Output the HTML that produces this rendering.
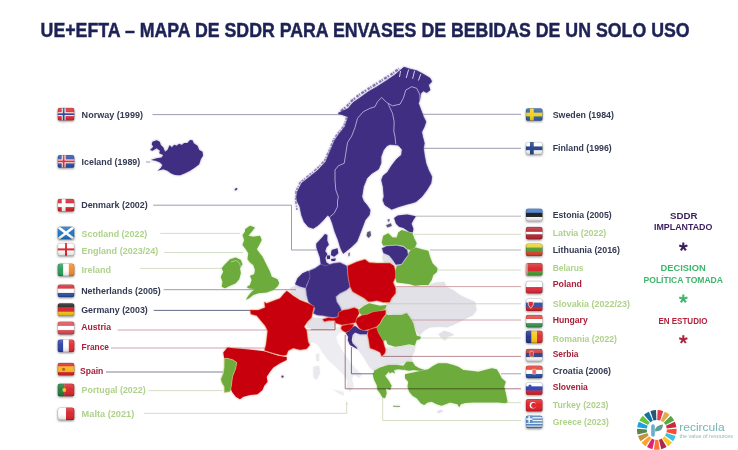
<!DOCTYPE html>
<html lang="es"><head><meta charset="utf-8"><title>UE+EFTA – Mapa de SDDR</title>
<style>html,body{margin:0;padding:0;background:#fff}body{width:738px;height:450px;overflow:hidden}svg{display:block}</style></head>
<body>
<svg width="738" height="450" viewBox="0 0 738 450" font-family="'Liberation Sans', sans-serif">
<defs>
<filter id="sh" x="-30%" y="-30%" width="160%" height="180%"><feDropShadow dx="0" dy="1" stdDeviation="1" flood-color="#444" flood-opacity="0.6"/></filter>
<filter id="soft" x="-5%" y="-5%" width="110%" height="110%"><feGaussianBlur stdDeviation="0.35"/></filter>
<filter id="map" x="-5%" y="-5%" width="110%" height="110%"><feGaussianBlur in="SourceGraphic" stdDeviation="1.3" result="b"/><feComponentTransfer in="b" result="g"><feFuncA type="linear" slope="0.45"/></feComponentTransfer><feGaussianBlur in="SourceGraphic" stdDeviation="0.35" result="s"/><feMerge><feMergeNode in="g"/><feMergeNode in="s"/></feMerge></filter>
<filter id="glow" x="-5%" y="-5%" width="110%" height="110%"><feGaussianBlur stdDeviation="1.2"/></filter>
<linearGradient id="gl" x1="0" y1="0" x2="0" y2="1"><stop offset="0" stop-color="#fff" stop-opacity="0.22"/><stop offset="0.45" stop-color="#fff" stop-opacity="0.04"/><stop offset="1" stop-color="#000" stop-opacity="0.16"/></linearGradient>
</defs>
<rect width="738" height="450" fill="#fff"/>
<g filter="url(#map)"><polygon points="396.7,286.7 415.0,286.7 428.3,285.8 435.0,282.5 444.2,281.7 446.7,286.7 453.3,290.0 460.0,295.0 466.7,298.3 475.0,301.7 476.7,310.0 473.3,315.0 466.7,318.3 460.0,321.7 453.3,325.0 446.7,327.5 438.3,326.7 430.0,327.5 425.0,330.0 421.7,333.3 419.2,335.8 415.8,330.0 413.3,323.3 410.8,318.3 406.7,313.3 401.7,315.0 393.3,315.0 385.0,313.3 385.0,305.8 389.2,303.3 391.7,299.2 395.8,293.3" fill="#e2e1e7" />
<polygon points="438.3,334.2 444.2,330.8 450.0,332.5 454.2,335.0 448.3,336.7 445.0,340.8 441.7,338.3" fill="#e2e1e7" />
<polygon points="335.8,296.7 340.0,293.3 346.7,290.0 350.0,286.7 352.5,291.7 358.3,295.0 364.2,298.3 368.3,302.5 363.3,305.8 358.3,308.3 353.3,307.5 346.7,309.2 341.7,310.0 340.0,306.0 336.7,301.7" fill="#e2e1e7" />
<polygon points="290.0,288.0 296.0,285.5 305.0,287.0 307.0,295.0 309.0,300.0 304.0,300.5 297.0,297.0 291.0,293.0" fill="#e2e1e7" />
<polygon points="307.5,321.7 311.7,317.5 321.7,318.3 328.3,320.0 335.0,323.3 334.2,328.3 323.3,329.2 313.3,329.2 306.7,327.5" fill="#e2e1e7" />
<polygon points="307.0,330.0 313.0,329.0 323.0,329.5 334.0,328.5 341.0,326.0 343.0,331.0 339.0,333.0 336.0,337.0 338.0,343.0 343.0,352.0 350.0,362.0 357.0,370.0 362.0,375.0 359.0,378.0 354.0,374.5 352.0,379.0 354.0,386.0 350.0,392.0 346.5,388.0 347.5,381.0 343.0,374.0 336.0,367.0 328.0,360.0 322.0,352.0 318.0,345.0 312.0,342.0 308.5,345.0 307.5,337.0" fill="#ededf1" />
<polygon points="332.5,389.2 343.3,391.7 344.2,395.8 338.3,393.3" fill="#ededf1" />
<polygon points="313.3,366.7 319.2,365.8 320.0,373.3 316.7,380.0 313.3,377.5" fill="#e9e9ed" />
<polygon points="315.8,354.2 319.2,353.3 319.2,360.8 316.7,361.7" fill="#e9e9ed" />
<polygon points="385.0,347.5 395.0,347.5 409.2,345.0 415.8,346.7 414.2,352.5 411.7,356.7 412.5,360.8 405.0,363.3 396.7,365.0 388.3,365.0 383.3,365.8 380.0,363.3 385.0,353.3 385.8,350.0" fill="#e5e4ea" />
<polygon points="352.5,335.0 360.0,334.2 366.7,334.2 369.2,344.0 375.0,350.0 381.7,356.7 383.3,365.0 378.0,367.5 374.0,371.0 370.0,368.0 364.0,358.0 357.5,349.2 353.3,343.0" fill="#e7e6ec" />
<polygon points="383.3,254.0 389.0,256.5 392.5,261.0 394.0,264.0 390.0,263.2 384.0,262.8 382.0,258.0" fill="#e2e1e7" />
<ellipse cx="440" cy="411.5" rx="3" ry="1.3" fill="#e2e2e6" transform="rotate(-20 440 411.5)"/></g>
<g><line x1="152.5" y1="114.6" x2="341.0" y2="114.6" stroke="#9092a6" stroke-width="0.9"/>
<line x1="146.0" y1="162.0" x2="150.5" y2="162.0" stroke="#9092a6" stroke-width="0.9"/>
<polyline points="153.2,205.2 291.5,205.2 291.5,250.0 317.0,250.0" fill="none" stroke="#9092a6" stroke-width="0.9" />
<line x1="160.3" y1="233.4" x2="240.0" y2="233.4" stroke="#d0dac0" stroke-width="0.9"/>
<line x1="164.0" y1="252.5" x2="243.0" y2="252.5" stroke="#d0dac0" stroke-width="0.9"/>
<line x1="140.0" y1="268.4" x2="222.0" y2="268.4" stroke="#d0dac0" stroke-width="0.9"/>
<line x1="163.6" y1="289.7" x2="296.0" y2="289.7" stroke="#9092a6" stroke-width="0.9"/>
<line x1="153.8" y1="310.4" x2="252.0" y2="310.4" stroke="#555a78" stroke-width="0.9"/>
<polyline points="117.6,330.0 335.0,330.0 335.0,321.0" fill="none" stroke="#cc9aa0" stroke-width="0.9" />
<line x1="111.0" y1="348.0" x2="266.0" y2="348.0" stroke="#cc9aa0" stroke-width="0.9"/>
<line x1="106.0" y1="372.0" x2="223.0" y2="372.0" stroke="#77738a" stroke-width="0.9"/>
<line x1="148.4" y1="390.6" x2="222.5" y2="390.6" stroke="#d0dac0" stroke-width="0.9"/>
<polyline points="144.0,413.4 346.7,413.4 346.7,402.5" fill="none" stroke="#d0dac0" stroke-width="0.9" />
<polygon points="345.6,404.5 346.7,401.5 347.8,404.5" fill="#d0dac0"/>
<line x1="421.0" y1="114.3" x2="521.0" y2="114.3" stroke="#9092a6" stroke-width="0.9"/>
<line x1="424.0" y1="148.3" x2="521.0" y2="148.3" stroke="#9092a6" stroke-width="0.9"/>
<line x1="415.8" y1="216.2" x2="521.0" y2="216.2" stroke="#adadb6" stroke-width="0.9"/>
<line x1="414.0" y1="234.3" x2="521.0" y2="234.3" stroke="#d0dac0" stroke-width="0.9"/>
<line x1="430.0" y1="250.0" x2="521.0" y2="250.0" stroke="#adadb6" stroke-width="0.9"/>
<line x1="438.0" y1="270.0" x2="521.0" y2="270.0" stroke="#d0dac0" stroke-width="0.9"/>
<line x1="395.8" y1="286.6" x2="521.0" y2="286.6" stroke="#cc9aa0" stroke-width="0.9"/>
<line x1="386.0" y1="303.8" x2="521.0" y2="303.8" stroke="#c9cfc0" stroke-width="0.9"/>
<line x1="382.0" y1="320.0" x2="521.0" y2="320.0" stroke="#cc9aa0" stroke-width="0.9"/>
<line x1="420.0" y1="338.0" x2="521.0" y2="338.0" stroke="#d0dac0" stroke-width="0.9"/>
<line x1="507.0" y1="402.7" x2="521.0" y2="402.7" stroke="#d0dac0" stroke-width="0.9"/>
<polyline points="382.7,398.0 382.7,420.5 521.0,420.5" fill="none" stroke="#d0dac0" stroke-width="0.9" /></g>
<g filter="url(#map)"><polygon points="313.3,228.3 308.3,226.7 304.2,221.7 301.7,215.0 300.0,206.7 297.2,201.0 296.7,197.0 297.5,191.7 301.7,183.3 310.0,176.7 318.3,170.0 325.8,161.7 330.0,151.7 335.0,140.0 339.2,134.0 345.0,126.7 348.3,116.7 338.3,113.3 348.3,108.5 353.0,102.8 361.0,97.2 368.5,91.8 376.5,87.2 386.5,80.8 395.0,75.0 401.0,69.8 404.0,67.3 410.0,69.2 416.7,70.8 423.3,74.2 430.0,78.3 431.7,81.7 428.3,85.0 430.0,90.0 426.7,92.5 423.3,90.8 420.8,93.3 420.0,98.3 418.3,103.3 420.8,110.0 423.3,116.7 425.8,121.7 424.2,126.7 421.5,132.0 422.5,136.7 424.2,143.3 423.3,148.3 424.2,155.0 425.8,163.3 428.3,170.0 431.7,176.7 430.8,183.3 426.7,190.0 421.7,196.7 416.0,201.5 413.3,202.5 406.7,204.2 398.3,206.7 391.7,209.2 385.0,205.0 383.0,200.0 384.2,196.7 383.3,186.7 381.7,180.0 383.3,175.8 387.5,172.5 391.7,165.8 396.7,159.2 401.7,155.0 402.3,149.5 398.3,145.0 390.0,144.2 386.7,145.8 383.3,150.0 380.8,156.7 380.8,163.3 378.3,169.2 371.7,173.3 366.7,178.3 363.3,186.7 361.7,196.7 363.3,201.0 366.7,205.0 370.0,210.0 369.2,215.0 365.0,220.0 362.5,226.7 360.0,233.3 356.7,241.7 352.5,245.8 347.5,250.0 343.3,253.3 340.8,248.3 338.3,240.0 335.0,231.7 332.5,223.3 330.0,216.7 327.5,215.0 323.3,220.0 318.3,225.0" fill="#3f2d82" stroke="#3f2d82" stroke-width="0.8" stroke-linejoin="round"/>
<polyline points="330.0,216.7 334.2,213.3 337.5,206.7 337.5,201.0 338.3,196.7 335.8,190.0 335.0,180.0 335.0,170.0 338.3,165.8 344.2,163.3 345.8,153.3 347.5,142.5 351.7,136.0 355.0,127.5 357.5,118.3 363.3,111.7 370.0,108.3 375.0,106.7 377.5,101.7 381.7,97.5 386.7,102.5 392.5,105.8 400.0,104.2 403.3,98.3 405.8,90.0 411.7,86.7 416.7,88.3 420.0,95.0 420.0,100.0" fill="none" stroke="#c9bfe6" stroke-width="0.8" />
<polyline points="388.3,104.2 392.5,113.3 394.2,121.7 393.8,131.0 395.0,136.7 395.8,144.2" fill="none" stroke="#c9bfe6" stroke-width="0.8" />
<line x1="408.6" y1="69.5" x2="406.2" y2="78.0" stroke="#e9e4f6" stroke-width="0.9"/>
<line x1="414.6" y1="70.8" x2="412.6" y2="78.8" stroke="#e9e4f6" stroke-width="0.9"/>
<line x1="420.8" y1="74.0" x2="418.4" y2="80.5" stroke="#e9e4f6" stroke-width="0.9"/>
<line x1="400.5" y1="71.0" x2="399.5" y2="77.0" stroke="#e9e4f6" stroke-width="0.9"/>
<polyline points="341.0,111.0 347.0,106.0 352.0,100.5 359.0,95.0 366.5,90.0 374.5,85.0 384.0,79.0 392.5,73.5 399.0,68.5" fill="none" stroke="#3f2d82" stroke-width="2.2" stroke-dasharray="3 1.1 1.6 1.8 2.4 0.9 1.2 1.5" opacity="0.6"/>
<polyline points="297.0,210.0 295.5,200.0 296.0,191.0 300.0,182.5 308.5,175.5 317.0,168.5 324.5,160.5 328.8,151.0 333.8,139.0 338.0,133.0 343.8,126.0 346.5,117.5" fill="none" stroke="#3f2d82" stroke-width="1.6" stroke-dasharray="2.2 1 1.2 1.6 3 1.2" opacity="0.5"/>
<polygon points="367.3,232.2 370.3,231.0 371.0,235.5 368.6,238.0 366.6,235.8" fill="#5a5478" />
<polygon points="348.5,253.0 350.0,252.5 349.5,256.0 348.3,256.5" fill="#6a648a" />
<polygon points="152.5,141.7 156.7,140.3 159.7,141.7 160.8,145.0 163.3,147.5 165.0,151.7 167.5,150.0 169.7,145.0 171.7,147.5 174.2,144.7 176.7,145.8 179.2,143.7 181.7,145.0 184.2,143.0 187.5,143.0 190.0,140.0 192.5,140.3 193.7,143.3 197.5,145.8 199.2,150.0 202.5,151.7 203.0,155.8 200.8,159.2 199.2,164.2 195.0,167.5 190.0,170.8 185.0,173.3 180.0,175.3 175.0,175.0 170.8,173.3 167.5,170.8 163.3,169.2 157.5,170.8 160.8,168.0 162.5,165.0 160.0,162.5 155.8,160.8 150.8,160.0 156.7,158.3 161.7,157.5 163.3,155.0 159.2,153.3 160.0,150.8 156.7,148.3 152.5,150.8 150.0,150.0 153.3,146.7 151.7,144.2" fill="#3f2d82" />
<ellipse cx="236" cy="189.2" rx="1.6" ry="1" fill="#4a3d80" transform="rotate(-35 236 189.2)"/>
<polygon points="324.9,234.0 327.4,235.0 327.2,240.6 328.9,244.7 326.4,247.4 325.2,251.2 327.4,253.9 325.3,257.7 326.4,262.4 330.5,264.7 327.4,266.8 321.2,266.1 320.5,262.4 319.9,257.4 318.1,252.4 316.4,247.4 316.2,243.7 319.3,240.6 322.7,236.8" fill="#3f2d82" />
<polygon points="331.7,250.0 337.5,248.3 338.3,253.3 334.2,256.7 330.8,255.0" fill="#3f2d82" />
<polygon points="327.0,255.5 330.0,255.5 330.0,259.0 327.0,259.0" fill="#3f2d82" />
<polygon points="331.0,259.0 336.0,258.5 335.0,261.0 331.5,261.0" fill="#3f2d82" />
<polygon points="295.0,284.2 297.5,278.3 302.5,273.3 308.3,270.8 310.8,274.2 309.2,279.2 306.7,284.2 305.5,288.0 300.0,286.5" fill="#3f2d82" />
<polygon points="309.2,270.8 315.0,268.3 320.8,264.2 325.8,265.8 333.3,263.3 340.0,262.5 346.7,265.8 347.5,271.0 348.3,278.3 350.0,286.7 346.7,290.0 340.0,293.3 335.8,296.7 336.7,301.7 340.0,306.7 341.7,310.8 338.3,313.3 338.3,316.7 333.3,317.5 328.3,316.7 323.3,315.8 316.7,315.0 313.3,313.3 315.0,308.3 311.7,305.0 308.3,301.7 306.7,295.0 305.8,288.3 308.3,281.7 310.0,276.7" fill="#3f2d82" stroke="#8f84c0" stroke-width="0.5"/>
<polygon points="347.5,265.8 356.7,261.7 365.0,259.2 369.2,262.5 376.7,263.0 390.0,263.0 394.2,265.8 395.5,271.0 395.8,276.7 393.3,282.5 395.8,288.3 395.8,293.3 391.7,298.3 389.6,302.5 383.3,302.5 376.7,300.8 371.7,301.7 368.3,301.7 364.2,298.3 358.3,295.0 352.5,291.7 350.0,286.7 348.3,278.3 347.5,270.0" fill="#c8000c" stroke="#e9a06a" stroke-width="0.5"/>
<polygon points="410.8,250.0 415.8,247.5 421.7,249.2 428.3,250.8 430.0,256.7 432.5,263.3 437.5,268.3 437.0,272.0 433.3,275.0 431.7,280.0 428.3,285.0 421.7,285.0 415.0,285.8 410.0,284.2 403.3,283.3 396.7,282.5 395.0,276.7 395.8,270.0 396.7,265.8 401.7,265.0 405.0,260.0 407.5,256.7 408.3,253.3" fill="#6dab3c" />
<polygon points="381.7,242.5 383.3,235.8 388.3,233.3 392.5,237.5 396.7,237.5 398.3,232.5 401.7,230.0 407.5,231.7 412.5,233.3 414.2,238.3 416.7,243.3 415.0,247.5 410.8,250.0 407.5,249.2 403.3,245.8 396.7,244.7 388.3,245.0 383.3,245.8" fill="#6dab3c" />
<polygon points="381.7,248.3 386.7,245.8 396.7,245.3 403.3,246.7 407.5,250.0 408.3,255.0 405.0,259.2 401.7,264.2 395.8,265.0 392.5,260.0 389.2,255.8 383.3,253.3" fill="#3f2d82" stroke="#d8d4ec" stroke-width="0.5"/>
<polygon points="394.1,218.1 397.8,215.6 407.2,214.4 415.9,216.2 413.4,220.0 411.5,223.7 413.4,228.7 412.8,232.4 409.0,231.8 403.4,228.1 399.1,226.8 396.0,223.7" fill="#3f2d82" />
<polygon points="386.0,225.2 391.0,223.3 391.8,226.0 387.5,227.5" fill="#5a5478" />
<polygon points="387.5,219.5 389.5,219.0 389.5,221.5 387.8,221.5" fill="#6a648a" />
<polygon points="245.0,229.2 250.0,225.8 255.0,227.5 251.7,231.7 248.3,235.8 253.3,236.7 260.0,235.8 261.7,240.0 259.2,245.0 256.7,249.2 259.2,252.5 262.5,256.7 265.0,261.7 267.5,266.7 270.0,271.7 271.7,276.7 277.5,279.2 279.2,283.3 277.5,286.5 273.3,290.0 266.7,292.5 258.3,293.3 253.3,295.0 249.2,298.3 245.8,300.0 248.3,295.8 251.7,291.7 255.0,289.2 248.3,288.3 246.7,287.0 250.0,285.0 251.7,280.0 250.0,275.8 254.2,274.2 255.0,270.0 253.3,265.0 250.0,262.5 247.5,259.2 248.3,253.3 245.8,249.2 242.5,245.0 244.2,240.0 242.5,235.0 245.0,231.7" fill="#6dab3c" />
<polygon points="230.0,259.2 235.8,257.5 240.8,260.0 242.5,264.2 240.0,268.3 240.8,273.3 239.2,279.2 235.8,283.3 230.0,285.8 225.0,288.3 221.7,286.7 222.5,281.7 220.8,276.7 223.3,271.7 221.7,268.3 225.0,264.2 227.5,261.7" fill="#6dab3c" />
<polyline points="231.0,262.0 236.0,260.5 239.5,263.0 240.5,266.5" fill="none" stroke="#cfe6b8" stroke-width="0.6" />
<polygon points="286.7,290.8 289.2,292.5 293.3,295.8 300.0,300.0 308.3,303.3 314.2,306.2 312.5,313.3 311.7,317.5 307.5,321.7 304.2,326.7 306.7,330.0 307.5,336.7 308.3,342.0 310.0,345.0 306.7,349.0 300.0,350.0 293.3,348.3 288.3,350.8 286.7,355.0 283.3,355.8 276.7,354.2 270.0,352.5 264.2,350.8 265.8,345.0 266.7,338.3 267.5,330.8 265.0,325.8 260.8,320.8 256.7,315.8 250.8,314.2 250.0,310.0 258.3,310.0 265.0,307.5 264.2,301.7 266.7,303.3 273.3,300.8 280.0,298.3 283.3,294.2" fill="#c8000c" stroke="#e9a06a" stroke-width="0.4"/>
<polygon points="223.3,352.5 227.5,347.5 233.0,348.3 243.0,349.0 253.0,350.0 264.0,351.2 270.0,353.0 278.0,355.5 286.7,357.0 286.7,360.0 280.0,363.3 273.3,367.5 270.0,371.7 266.7,376.7 267.5,381.7 264.2,385.8 262.5,390.0 257.5,394.2 250.0,395.0 243.3,396.7 240.0,399.2 235.8,396.7 232.5,392.5 230.8,389.2 231.7,383.3 232.5,376.7 235.8,368.3 236.7,362.5 233.3,360.0 227.5,358.3 224.2,358.3" fill="#c8000c" />
<polyline points="264.0,350.6 270.0,352.6 278.0,355.2 286.7,356.7" fill="none" stroke="#f2c9a0" stroke-width="0.7" />
<polygon points="224.2,358.3 227.5,358.3 233.3,360.0 236.7,362.5 235.8,368.3 232.5,376.7 231.7,383.3 230.8,389.2 230.0,391.7 224.2,392.5 224.2,386.7 221.7,382.5 220.8,379.2 223.3,373.3 224.2,366.7" fill="#6dab3c" stroke="#e8d49a" stroke-width="0.5"/>
<circle cx="282.5" cy="376.7" r="1.1" fill="#4a3d80"/>
<polygon points="359.2,309.2 364.2,305.8 369.2,303.3 373.3,304.2 380.0,305.8 386.7,305.0 385.0,309.2 380.0,310.8 373.3,311.7 366.7,314.2 361.7,315.0 359.2,312.5" fill="#6dab3c" />
<polygon points="322.5,319.2 328.3,317.5 333.3,318.3 338.3,316.7 338.3,312.5 343.3,310.0 348.3,309.2 354.2,307.5 358.3,309.2 359.2,313.3 356.7,318.3 355.8,322.5 348.3,324.2 341.7,325.0 335.8,323.3 335.0,320.8 328.3,320.8 324.2,321.7" fill="#c8000c" stroke="#e9a06a" stroke-width="0.4"/>
<polygon points="356.7,318.3 361.7,315.3 367.5,314.2 373.3,311.7 380.8,310.8 385.8,310.0 385.8,314.2 382.5,318.3 380.0,323.3 376.7,326.7 370.0,329.2 363.3,330.8 359.2,328.3 356.7,324.2 355.8,321.7" fill="#c8000c" stroke="#e9a06a" stroke-width="0.4"/>
<polygon points="341.7,325.8 348.3,324.2 354.2,324.2 352.5,327.5 349.2,330.8 345.8,332.5 342.5,330.8 340.8,328.3" fill="#c8000c" stroke="#e9a06a" stroke-width="0.4"/>
<polygon points="352.5,327.5 355.0,325.8 359.2,329.2 363.3,330.8 368.3,330.8 366.7,334.2 360.0,334.2 355.0,332.5 352.5,335.0 351.7,340.0 352.5,343.3 356.7,347.5 357.5,349.2 353.3,346.7 350.0,345.0 347.8,340.0 348.3,336.7 345.8,333.0 349.2,330.8" fill="#3f2d82" />
<polygon points="368.3,330.0 373.3,328.3 376.7,327.5 378.3,332.5 380.8,336.7 383.3,341.0 384.2,345.0 385.8,350.0 385.0,353.3 381.7,356.7 380.0,352.5 375.0,350.0 370.0,348.3 369.2,344.2 368.6,340.0 367.5,335.0" fill="#c8000c" stroke="#e9a06a" stroke-width="0.4"/>
<polygon points="376.7,327.5 380.8,323.3 383.3,318.3 386.7,314.2 388.3,315.0 401.7,315.0 406.7,313.0 410.0,317.5 413.3,323.3 415.0,330.0 416.7,335.8 420.8,336.7 420.0,339.2 416.7,340.0 415.0,345.0 415.8,345.8 409.2,344.2 401.7,345.8 395.0,346.7 387.5,344.2 386.0,340.0 383.3,341.0 380.8,336.7 378.3,332.5" fill="#6dab3c" />
<polygon points="374.2,370.8 380.0,367.5 388.3,365.0 396.7,365.0 403.3,365.8 405.0,370.0 398.3,369.2 394.0,370.0 395.0,373.5 392.0,372.0 390.0,373.5 388.5,371.5 387.5,373.3 385.0,375.8 388.3,380.0 391.7,385.8 390.0,390.0 385.8,388.3 386.7,393.3 385.0,398.3 382.5,397.5 380.0,393.3 377.5,390.0 376.7,385.0 374.2,380.0 373.0,375.8" fill="#6dab3c" />
<polyline points="393.0,406.2 400.0,406.5" fill="none" stroke="#7a9a5a" stroke-width="0.9" />
<polygon points="403.3,365.8 406.7,361.7 412.5,361.7 415.0,365.8 419.2,368.3 425.0,370.0 420.0,370.8 413.3,370.0 409.2,370.8 405.0,370.0" fill="#6dab3c" />
<polygon points="405.0,374.2 413.3,372.5 421.7,370.8 428.3,369.2 433.3,365.8 438.3,363.3 446.7,363.3 453.3,365.0 458.3,366.7 463.3,370.0 470.0,370.8 478.3,371.7 485.0,370.0 491.7,368.3 496.7,369.2 499.2,373.3 501.7,378.3 505.8,381.7 504.2,386.7 505.8,393.3 507.5,401.7 505.8,403.3 498.3,402.5 490.0,402.5 481.7,402.5 473.3,402.5 465.0,403.0 460.8,404.2 459.2,407.5 457.5,404.2 450.0,402.5 441.7,405.8 436.7,404.2 431.7,401.7 427.5,402.5 424.2,405.0 420.8,403.3 416.7,398.3 412.5,395.8 409.2,391.7 407.5,386.7 408.3,381.7 405.0,378.3" fill="#6dab3c" /></g>
<g style="mix-blend-mode:multiply"><polyline points="382.5,356.4 521.0,356.4" fill="none" stroke="#b08088" stroke-width="0.9" />
<polyline points="351.4,347.2 351.4,373.8 374.0,373.8" fill="none" stroke="#62648a" stroke-width="0.9" />
<polyline points="501.0,373.8 521.0,373.8" fill="none" stroke="#9a9cb0" stroke-width="0.9" />
<polyline points="345.2,335.0 345.2,388.8 521.0,388.8" fill="none" stroke="#a0707a" stroke-width="0.9" />
<polyline points="311.0,329.6 335.0,329.6 335.0,321.0" fill="none" stroke="#cc9aa0" stroke-width="0.9" /></g>
<g><g filter="url(#sh)"><clipPath id="c1"><rect x="57.6" y="107.8" width="16.8" height="12.8" rx="2.6"/></clipPath><g clip-path="url(#c1)"><rect x="57.60" y="107.80" width="16.80" height="12.80" fill="#e0282e"/><rect x="61.73" y="107.80" width="3.84" height="12.80" fill="#fff"/><rect x="57.60" y="112.28" width="16.80" height="3.84" fill="#fff"/><rect x="62.75" y="107.80" width="1.79" height="12.80" fill="#2a3f9a"/><rect x="57.60" y="113.30" width="16.80" height="1.79" fill="#2a3f9a"/><rect x="57.6" y="107.8" width="16.8" height="12.8" fill="url(#gl)"/><rect x="57.6" y="107.8" width="16.8" height="12.8" rx="2.6" fill="none" stroke="#000" stroke-opacity="0.22" stroke-width="1.2"/></g></g>
<g filter="url(#sh)"><clipPath id="c2"><rect x="57.6" y="155.0" width="16.8" height="12.8" rx="2.6"/></clipPath><g clip-path="url(#c2)"><rect x="57.60" y="155.00" width="16.80" height="12.80" fill="#2a50a8"/><rect x="61.73" y="155.00" width="3.84" height="12.80" fill="#fff"/><rect x="57.60" y="159.48" width="16.80" height="3.84" fill="#fff"/><rect x="62.75" y="155.00" width="1.79" height="12.80" fill="#e0282e"/><rect x="57.60" y="160.50" width="16.80" height="1.79" fill="#e0282e"/><rect x="57.6" y="155.0" width="16.8" height="12.8" fill="url(#gl)"/><rect x="57.6" y="155.0" width="16.8" height="12.8" rx="2.6" fill="none" stroke="#000" stroke-opacity="0.22" stroke-width="1.2"/></g></g>
<g filter="url(#sh)"><clipPath id="c3"><rect x="57.6" y="198.8" width="16.8" height="12.8" rx="2.6"/></clipPath><g clip-path="url(#c3)"><rect x="57.60" y="198.80" width="16.80" height="12.80" fill="#d8222a"/><rect x="61.73" y="198.80" width="3.84" height="12.80" fill="#fff"/><rect x="57.60" y="203.28" width="16.80" height="3.84" fill="#fff"/><rect x="57.6" y="198.8" width="16.8" height="12.8" fill="url(#gl)"/><rect x="57.6" y="198.8" width="16.8" height="12.8" rx="2.6" fill="none" stroke="#000" stroke-opacity="0.22" stroke-width="1.2"/></g></g>
<g filter="url(#sh)"><clipPath id="c4"><rect x="57.6" y="226.6" width="16.8" height="12.8" rx="2.6"/></clipPath><g clip-path="url(#c4)"><rect x="57.60" y="226.60" width="16.80" height="12.80" fill="#1b74c4"/><path d="M57.6 226.6 L74.4 239.4 M74.4 226.6 L57.6 239.4" stroke="#fff" stroke-width="2.6"/><rect x="57.6" y="226.6" width="16.8" height="12.8" fill="url(#gl)"/><rect x="57.6" y="226.6" width="16.8" height="12.8" rx="2.6" fill="none" stroke="#000" stroke-opacity="0.22" stroke-width="1.2"/></g></g>
<g filter="url(#sh)"><clipPath id="c5"><rect x="57.6" y="243.0" width="16.8" height="12.8" rx="2.6"/></clipPath><g clip-path="url(#c5)"><rect x="57.60" y="243.00" width="16.80" height="12.80" fill="#fff"/><rect x="65.00" y="243.00" width="2.00" height="12.80" fill="#d8222a"/><rect x="57.60" y="248.40" width="16.80" height="2.00" fill="#d8222a"/><rect x="57.6" y="243.0" width="16.8" height="12.8" fill="url(#gl)"/><rect x="57.6" y="243.0" width="16.8" height="12.8" rx="2.6" fill="none" stroke="#000" stroke-opacity="0.22" stroke-width="1.2"/></g></g>
<g filter="url(#sh)"><clipPath id="c6"><rect x="57.6" y="263.4" width="16.8" height="12.8" rx="2.6"/></clipPath><g clip-path="url(#c6)"><rect x="57.60" y="263.40" width="5.80" height="12.80" fill="#2a9a5a"/><rect x="63.20" y="263.40" width="5.80" height="12.80" fill="#fff"/><rect x="68.80" y="263.40" width="5.80" height="12.80" fill="#f28a2a"/><rect x="57.6" y="263.4" width="16.8" height="12.8" fill="url(#gl)"/><rect x="57.6" y="263.4" width="16.8" height="12.8" rx="2.6" fill="none" stroke="#000" stroke-opacity="0.22" stroke-width="1.2"/></g></g>
<g filter="url(#sh)"><clipPath id="c7"><rect x="57.6" y="284.4" width="16.8" height="12.8" rx="2.6"/></clipPath><g clip-path="url(#c7)"><rect x="57.60" y="284.40" width="16.80" height="4.47" fill="#d8222a"/><rect x="57.60" y="288.67" width="16.80" height="4.47" fill="#fff"/><rect x="57.60" y="292.93" width="16.80" height="4.47" fill="#2a50a8"/><rect x="57.6" y="284.4" width="16.8" height="12.8" fill="url(#gl)"/><rect x="57.6" y="284.4" width="16.8" height="12.8" rx="2.6" fill="none" stroke="#000" stroke-opacity="0.22" stroke-width="1.2"/></g></g>
<g filter="url(#sh)"><clipPath id="c8"><rect x="57.6" y="303.2" width="16.8" height="12.8" rx="2.6"/></clipPath><g clip-path="url(#c8)"><rect x="57.60" y="303.20" width="16.80" height="4.47" fill="#1a1a1a"/><rect x="57.60" y="307.47" width="16.80" height="4.47" fill="#d8222a"/><rect x="57.60" y="311.73" width="16.80" height="4.47" fill="#f7c81a"/><rect x="57.6" y="303.2" width="16.8" height="12.8" fill="url(#gl)"/><rect x="57.6" y="303.2" width="16.8" height="12.8" rx="2.6" fill="none" stroke="#000" stroke-opacity="0.22" stroke-width="1.2"/></g></g>
<g filter="url(#sh)"><clipPath id="c9"><rect x="57.6" y="321.6" width="16.8" height="12.8" rx="2.6"/></clipPath><g clip-path="url(#c9)"><rect x="57.60" y="321.60" width="16.80" height="4.47" fill="#e04a52"/><rect x="57.60" y="325.87" width="16.80" height="4.47" fill="#fff"/><rect x="57.60" y="330.13" width="16.80" height="4.47" fill="#e04a52"/><rect x="57.6" y="321.6" width="16.8" height="12.8" fill="url(#gl)"/><rect x="57.6" y="321.6" width="16.8" height="12.8" rx="2.6" fill="none" stroke="#000" stroke-opacity="0.22" stroke-width="1.2"/></g></g>
<g filter="url(#sh)"><clipPath id="c10"><rect x="57.6" y="339.4" width="16.8" height="12.8" rx="2.6"/></clipPath><g clip-path="url(#c10)"><rect x="57.60" y="339.40" width="5.80" height="12.80" fill="#2a40a8"/><rect x="63.20" y="339.40" width="5.80" height="12.80" fill="#fff"/><rect x="68.80" y="339.40" width="5.80" height="12.80" fill="#e0282e"/><rect x="57.6" y="339.4" width="16.8" height="12.8" fill="url(#gl)"/><rect x="57.6" y="339.4" width="16.8" height="12.8" rx="2.6" fill="none" stroke="#000" stroke-opacity="0.22" stroke-width="1.2"/></g></g>
<g filter="url(#sh)"><clipPath id="c11"><rect x="57.6" y="362.8" width="16.8" height="12.8" rx="2.6"/></clipPath><g clip-path="url(#c11)"><rect x="57.60" y="362.80" width="16.80" height="12.80" fill="#d8222a"/><rect x="57.60" y="366.26" width="16.80" height="5.89" fill="#f5b818"/><circle cx="63.6" cy="369.2" r="1.5" fill="#b5552a"/><rect x="57.6" y="362.8" width="16.8" height="12.8" fill="url(#gl)"/><rect x="57.6" y="362.8" width="16.8" height="12.8" rx="2.6" fill="none" stroke="#000" stroke-opacity="0.22" stroke-width="1.2"/></g></g>
<g filter="url(#sh)"><clipPath id="c12"><rect x="57.6" y="383.6" width="16.8" height="12.8" rx="2.6"/></clipPath><g clip-path="url(#c12)"><rect x="57.60" y="383.60" width="6.72" height="12.80" fill="#1f7a3a"/><rect x="64.32" y="383.60" width="10.08" height="12.80" fill="#d8222a"/><circle cx="64.3" cy="390.0" r="2" fill="#f2c21a"/><rect x="57.6" y="383.6" width="16.8" height="12.8" fill="url(#gl)"/><rect x="57.6" y="383.6" width="16.8" height="12.8" rx="2.6" fill="none" stroke="#000" stroke-opacity="0.22" stroke-width="1.2"/></g></g>
<g filter="url(#sh)"><clipPath id="c13"><rect x="57.6" y="407.4" width="16.8" height="12.8" rx="2.6"/></clipPath><g clip-path="url(#c13)"><rect x="57.60" y="407.40" width="8.60" height="12.80" fill="#fff"/><rect x="66.00" y="407.40" width="8.60" height="12.80" fill="#d8222a"/><rect x="57.6" y="407.4" width="16.8" height="12.8" fill="url(#gl)"/><rect x="57.6" y="407.4" width="16.8" height="12.8" rx="2.6" fill="none" stroke="#000" stroke-opacity="0.22" stroke-width="1.2"/></g></g>
<g filter="url(#sh)"><clipPath id="c14"><rect x="525.8" y="108.2" width="16.8" height="12.6" rx="2.6"/></clipPath><g clip-path="url(#c14)"><rect x="525.80" y="108.20" width="16.80" height="12.60" fill="#2a62a8"/><rect x="529.96" y="108.20" width="3.78" height="12.60" fill="#f7d01a"/><rect x="525.80" y="112.61" width="16.80" height="3.78" fill="#f7d01a"/><rect x="525.8" y="108.2" width="16.8" height="12.6" fill="url(#gl)"/><rect x="525.8" y="108.2" width="16.8" height="12.6" rx="2.6" fill="none" stroke="#000" stroke-opacity="0.22" stroke-width="1.2"/></g></g>
<g filter="url(#sh)"><clipPath id="c15"><rect x="525.8" y="142.0" width="16.8" height="12.6" rx="2.6"/></clipPath><g clip-path="url(#c15)"><rect x="525.80" y="142.00" width="16.80" height="12.60" fill="#fff"/><rect x="529.96" y="142.00" width="3.78" height="12.60" fill="#22408a"/><rect x="525.80" y="146.41" width="16.80" height="3.78" fill="#22408a"/><rect x="525.8" y="142.0" width="16.8" height="12.6" fill="url(#gl)"/><rect x="525.8" y="142.0" width="16.8" height="12.6" rx="2.6" fill="none" stroke="#000" stroke-opacity="0.22" stroke-width="1.2"/></g></g>
<g filter="url(#sh)"><clipPath id="c16"><rect x="525.8" y="208.6" width="16.8" height="12.6" rx="2.6"/></clipPath><g clip-path="url(#c16)"><rect x="525.80" y="208.60" width="16.80" height="4.40" fill="#3a78d0"/><rect x="525.80" y="212.80" width="16.80" height="4.40" fill="#1a1a1a"/><rect x="525.80" y="217.00" width="16.80" height="4.40" fill="#fff"/><rect x="525.8" y="208.6" width="16.8" height="12.6" fill="url(#gl)"/><rect x="525.8" y="208.6" width="16.8" height="12.6" rx="2.6" fill="none" stroke="#000" stroke-opacity="0.22" stroke-width="1.2"/></g></g>
<g filter="url(#sh)"><clipPath id="c17"><rect x="525.8" y="226.8" width="16.8" height="12.6" rx="2.6"/></clipPath><g clip-path="url(#c17)"><rect x="525.80" y="226.80" width="16.80" height="5.24" fill="#b8222f"/><rect x="525.80" y="231.84" width="16.80" height="2.72" fill="#fff"/><rect x="525.80" y="234.36" width="16.80" height="5.24" fill="#b8222f"/><rect x="525.8" y="226.8" width="16.8" height="12.6" fill="url(#gl)"/><rect x="525.8" y="226.8" width="16.8" height="12.6" rx="2.6" fill="none" stroke="#000" stroke-opacity="0.22" stroke-width="1.2"/></g></g>
<g filter="url(#sh)"><clipPath id="c18"><rect x="525.8" y="243.4" width="16.8" height="12.6" rx="2.6"/></clipPath><g clip-path="url(#c18)"><rect x="525.80" y="243.40" width="16.80" height="4.40" fill="#e8d22a"/><rect x="525.80" y="247.60" width="16.80" height="4.40" fill="#4a9a3a"/><rect x="525.80" y="251.80" width="16.80" height="4.40" fill="#d8452a"/><rect x="525.8" y="243.4" width="16.8" height="12.6" fill="url(#gl)"/><rect x="525.8" y="243.4" width="16.8" height="12.6" rx="2.6" fill="none" stroke="#000" stroke-opacity="0.22" stroke-width="1.2"/></g></g>
<g filter="url(#sh)"><clipPath id="c19"><rect x="525.8" y="263.0" width="16.8" height="12.6" rx="2.6"/></clipPath><g clip-path="url(#c19)"><rect x="525.80" y="263.00" width="16.80" height="8.60" fill="#d8222a"/><rect x="525.80" y="271.40" width="16.80" height="4.40" fill="#4aa032"/><rect x="525.80" y="263.00" width="1.80" height="12.60" fill="#e8b0a8"/><rect x="525.8" y="263.0" width="16.8" height="12.6" fill="url(#gl)"/><rect x="525.8" y="263.0" width="16.8" height="12.6" rx="2.6" fill="none" stroke="#000" stroke-opacity="0.22" stroke-width="1.2"/></g></g>
<g filter="url(#sh)"><clipPath id="c20"><rect x="525.8" y="280.8" width="16.8" height="12.6" rx="2.6"/></clipPath><g clip-path="url(#c20)"><rect x="525.80" y="280.80" width="16.80" height="6.50" fill="#fff"/><rect x="525.80" y="287.10" width="16.80" height="6.50" fill="#e0283a"/><rect x="525.8" y="280.8" width="16.8" height="12.6" fill="url(#gl)"/><rect x="525.8" y="280.8" width="16.8" height="12.6" rx="2.6" fill="none" stroke="#000" stroke-opacity="0.22" stroke-width="1.2"/></g></g>
<g filter="url(#sh)"><clipPath id="c21"><rect x="525.8" y="298.4" width="16.8" height="12.6" rx="2.6"/></clipPath><g clip-path="url(#c21)"><rect x="525.80" y="298.40" width="16.80" height="4.40" fill="#fff"/><rect x="525.80" y="302.60" width="16.80" height="4.40" fill="#2a50a8"/><rect x="525.80" y="306.80" width="16.80" height="4.40" fill="#d8222a"/><path d="M528.3 301.4 h5 v3.5 q-2.5 3.5 -2.5 3.5 q-2.5 -3.5 -2.5 -3.5z" fill="#d8222a" stroke="#fff" stroke-width="0.7"/><rect x="525.8" y="298.4" width="16.8" height="12.6" fill="url(#gl)"/><rect x="525.8" y="298.4" width="16.8" height="12.6" rx="2.6" fill="none" stroke="#000" stroke-opacity="0.22" stroke-width="1.2"/></g></g>
<g filter="url(#sh)"><clipPath id="c22"><rect x="525.8" y="314.8" width="16.8" height="12.6" rx="2.6"/></clipPath><g clip-path="url(#c22)"><rect x="525.80" y="314.80" width="16.80" height="4.40" fill="#e0403a"/><rect x="525.80" y="319.00" width="16.80" height="4.40" fill="#fff"/><rect x="525.80" y="323.20" width="16.80" height="4.40" fill="#3a9a52"/><rect x="525.8" y="314.8" width="16.8" height="12.6" fill="url(#gl)"/><rect x="525.8" y="314.8" width="16.8" height="12.6" rx="2.6" fill="none" stroke="#000" stroke-opacity="0.22" stroke-width="1.2"/></g></g>
<g filter="url(#sh)"><clipPath id="c23"><rect x="525.8" y="330.6" width="16.8" height="12.6" rx="2.6"/></clipPath><g clip-path="url(#c23)"><rect x="525.80" y="330.60" width="5.80" height="12.60" fill="#22308a"/><rect x="531.40" y="330.60" width="5.80" height="12.60" fill="#f7c81a"/><rect x="537.00" y="330.60" width="5.80" height="12.60" fill="#e0282e"/><rect x="525.8" y="330.6" width="16.8" height="12.6" fill="url(#gl)"/><rect x="525.8" y="330.6" width="16.8" height="12.6" rx="2.6" fill="none" stroke="#000" stroke-opacity="0.22" stroke-width="1.2"/></g></g>
<g filter="url(#sh)"><clipPath id="c24"><rect x="525.8" y="348.8" width="16.8" height="12.6" rx="2.6"/></clipPath><g clip-path="url(#c24)"><rect x="525.80" y="348.80" width="16.80" height="4.40" fill="#c6363c"/><rect x="525.80" y="353.00" width="16.80" height="4.40" fill="#2a3f8a"/><rect x="525.80" y="357.20" width="16.80" height="4.40" fill="#fff"/><rect x="529.8" y="351.3" width="3.6" height="5.5" rx="1" fill="#c6363c" stroke="#e8d9a0" stroke-width="0.6"/><rect x="525.8" y="348.8" width="16.8" height="12.6" fill="url(#gl)"/><rect x="525.8" y="348.8" width="16.8" height="12.6" rx="2.6" fill="none" stroke="#000" stroke-opacity="0.22" stroke-width="1.2"/></g></g>
<g filter="url(#sh)"><clipPath id="c25"><rect x="525.8" y="365.6" width="16.8" height="12.6" rx="2.6"/></clipPath><g clip-path="url(#c25)"><rect x="525.80" y="365.60" width="16.80" height="4.40" fill="#e8392c"/><rect x="525.80" y="369.80" width="16.80" height="4.40" fill="#fff"/><rect x="525.80" y="374.00" width="16.80" height="4.40" fill="#2a50a8"/><rect x="532.2" y="369.2" width="4" height="5" rx="0.8" fill="#e86a60" stroke="#fff" stroke-width="0.4"/><rect x="525.8" y="365.6" width="16.8" height="12.6" fill="url(#gl)"/><rect x="525.8" y="365.6" width="16.8" height="12.6" rx="2.6" fill="none" stroke="#000" stroke-opacity="0.22" stroke-width="1.2"/></g></g>
<g filter="url(#sh)"><clipPath id="c26"><rect x="525.8" y="382.2" width="16.8" height="12.6" rx="2.6"/></clipPath><g clip-path="url(#c26)"><rect x="525.80" y="382.20" width="16.80" height="4.40" fill="#fff"/><rect x="525.80" y="386.40" width="16.80" height="4.40" fill="#2a3fb8"/><rect x="525.80" y="390.60" width="16.80" height="4.40" fill="#e01d24"/><circle cx="530.0" cy="386.0" r="1.6" fill="#2a3fb8"/><rect x="525.8" y="382.2" width="16.8" height="12.6" fill="url(#gl)"/><rect x="525.8" y="382.2" width="16.8" height="12.6" rx="2.6" fill="none" stroke="#000" stroke-opacity="0.22" stroke-width="1.2"/></g></g>
<g filter="url(#sh)"><clipPath id="c27"><rect x="525.8" y="399.0" width="16.8" height="12.6" rx="2.6"/></clipPath><g clip-path="url(#c27)"><rect x="525.80" y="399.00" width="16.80" height="12.60" fill="#e01d24"/><circle cx="532.9" cy="405.3" r="3.2" fill="#fff"/><circle cx="533.8" cy="405.3" r="2.6" fill="#e01d24"/><rect x="525.8" y="399.0" width="16.8" height="12.6" fill="url(#gl)"/><rect x="525.8" y="399.0" width="16.8" height="12.6" rx="2.6" fill="none" stroke="#000" stroke-opacity="0.22" stroke-width="1.2"/></g></g>
<g filter="url(#sh)"><clipPath id="c28"><rect x="525.8" y="415.6" width="16.8" height="12.6" rx="2.6"/></clipPath><g clip-path="url(#c28)"><rect x="525.80" y="415.60" width="16.80" height="12.60" fill="#e9eef6"/><rect x="525.80" y="415.60" width="16.80" height="1.50" fill="#4d86c6"/><rect x="525.80" y="418.40" width="16.80" height="1.50" fill="#4d86c6"/><rect x="525.80" y="421.20" width="16.80" height="1.50" fill="#4d86c6"/><rect x="525.80" y="424.00" width="16.80" height="1.50" fill="#4d86c6"/><rect x="525.80" y="426.80" width="16.80" height="1.50" fill="#4d86c6"/><rect x="525.80" y="415.60" width="6.72" height="7.00" fill="#4d86c6"/><rect x="528.46" y="415.60" width="1.40" height="7.00" fill="#fff"/><rect x="525.80" y="418.40" width="6.72" height="1.40" fill="#fff"/><rect x="525.8" y="415.6" width="16.8" height="12.6" fill="url(#gl)"/><rect x="525.8" y="415.6" width="16.8" height="12.6" rx="2.6" fill="none" stroke="#000" stroke-opacity="0.22" stroke-width="1.2"/></g></g></g>
<g filter="url(#soft)"><text x="81.6" y="117.8" textLength="61.4" lengthAdjust="spacingAndGlyphs" fill="#333a52" font-size="9.5" font-weight="bold" >Norway (1999)</text>
<text x="81.6" y="164.8" textLength="58.6" lengthAdjust="spacingAndGlyphs" fill="#333a52" font-size="9.5" font-weight="bold" >Iceland (1989)</text>
<text x="81.2" y="207.8" textLength="66.6" lengthAdjust="spacingAndGlyphs" fill="#333a52" font-size="9.5" font-weight="bold" >Denmark (2002)</text>
<text x="81.6" y="236.6" textLength="65.7" lengthAdjust="spacingAndGlyphs" fill="#aed28a" font-size="9.5" font-weight="bold" >Scotland (2022)</text>
<text x="81.6" y="254.4" textLength="76.6" lengthAdjust="spacingAndGlyphs" fill="#aed28a" font-size="9.5" font-weight="bold" >England (2023/24)</text>
<text x="81.6" y="273.4" textLength="29.5" lengthAdjust="spacingAndGlyphs" fill="#aed28a" font-size="9.5" font-weight="bold" >Ireland</text>
<text x="81.2" y="294.0" textLength="79.6" lengthAdjust="spacingAndGlyphs" fill="#333a52" font-size="9.5" font-weight="bold" >Netherlands (2005)</text>
<text x="81.2" y="313.0" textLength="66.6" lengthAdjust="spacingAndGlyphs" fill="#333a52" font-size="9.5" font-weight="bold" >Germany (2003)</text>
<text x="81.2" y="330.2" textLength="29.8" lengthAdjust="spacingAndGlyphs" fill="#a8203a" font-size="9.5" font-weight="bold" >Austria</text>
<text x="81.6" y="350.4" textLength="27.4" lengthAdjust="spacingAndGlyphs" fill="#a8203a" font-size="9.5" font-weight="bold" >France</text>
<text x="80.0" y="374.0" textLength="23.3" lengthAdjust="spacingAndGlyphs" fill="#a8203a" font-size="9.5" font-weight="bold" >Spain</text>
<text x="81.6" y="393.2" textLength="64.0" lengthAdjust="spacingAndGlyphs" fill="#aed28a" font-size="9.5" font-weight="bold" >Portugal (2022)</text>
<text x="81.6" y="416.6" textLength="52.7" lengthAdjust="spacingAndGlyphs" fill="#aed28a" font-size="9.5" font-weight="bold" >Malta (2021)</text>
<text x="552.7" y="117.6" textLength="61.2" lengthAdjust="spacingAndGlyphs" fill="#333a52" font-size="9.5" font-weight="bold" >Sweden (1984)</text>
<text x="552.7" y="151.4" textLength="59.0" lengthAdjust="spacingAndGlyphs" fill="#333a52" font-size="9.5" font-weight="bold" >Finland (1996)</text>
<text x="552.7" y="218.0" textLength="59.0" lengthAdjust="spacingAndGlyphs" fill="#333a52" font-size="9.5" font-weight="bold" >Estonia (2005)</text>
<text x="552.7" y="235.6" textLength="53.6" lengthAdjust="spacingAndGlyphs" fill="#aed28a" font-size="9.5" font-weight="bold" >Latvia (2022)</text>
<text x="552.7" y="253.1" textLength="67.3" lengthAdjust="spacingAndGlyphs" fill="#333a52" font-size="9.5" font-weight="bold" >Lithuania (2016)</text>
<text x="552.7" y="271.3" textLength="30.8" lengthAdjust="spacingAndGlyphs" fill="#aed28a" font-size="9.5" font-weight="bold" >Belarus</text>
<text x="552.7" y="287.1" textLength="29.3" lengthAdjust="spacingAndGlyphs" fill="#a8203a" font-size="9.5" font-weight="bold" >Poland</text>
<text x="552.7" y="306.6" textLength="77.3" lengthAdjust="spacingAndGlyphs" fill="#aed28a" font-size="9.5" font-weight="bold" >Slovakia (2022/23)</text>
<text x="552.7" y="323.3" textLength="35.1" lengthAdjust="spacingAndGlyphs" fill="#a8203a" font-size="9.5" font-weight="bold" >Hungary</text>
<text x="552.7" y="341.7" textLength="64.3" lengthAdjust="spacingAndGlyphs" fill="#aed28a" font-size="9.5" font-weight="bold" >Romania (2022)</text>
<text x="552.7" y="356.9" textLength="25.8" lengthAdjust="spacingAndGlyphs" fill="#a8203a" font-size="9.5" font-weight="bold" >Serbia</text>
<text x="552.7" y="373.6" textLength="58.3" lengthAdjust="spacingAndGlyphs" fill="#333a52" font-size="9.5" font-weight="bold" >Croatia (2006)</text>
<text x="552.7" y="389.5" textLength="35.1" lengthAdjust="spacingAndGlyphs" fill="#a8203a" font-size="9.5" font-weight="bold" >Slovenia</text>
<text x="552.7" y="408.0" textLength="55.8" lengthAdjust="spacingAndGlyphs" fill="#aed28a" font-size="9.5" font-weight="bold" >Turkey (2023)</text>
<text x="552.7" y="424.9" textLength="56.2" lengthAdjust="spacingAndGlyphs" fill="#aed28a" font-size="9.5" font-weight="bold" >Greece (2023)</text>
<text x="40.6" y="36.8" textLength="649.0" lengthAdjust="spacingAndGlyphs" fill="#1f2355" font-size="19.6" font-weight="bold" stroke="#1f2355" stroke-width="0.45">UE+EFTA – MAPA DE SDDR PARA ENVASES DE BEBIDAS DE UN SOLO USO</text>
<text x="670.0" y="218.8" textLength="27.5" lengthAdjust="spacingAndGlyphs" fill="#3a1f5e" font-size="9" font-weight="bold" >SDDR</text>
<text x="654.0" y="230.2" textLength="58.4" lengthAdjust="spacingAndGlyphs" fill="#3a1f5e" font-size="9" font-weight="bold" >IMPLANTADO</text>
<text x="660.5" y="271.0" textLength="45.2" lengthAdjust="spacingAndGlyphs" fill="#3fb56c" font-size="9" font-weight="bold" >DECISION</text>
<text x="643.5" y="282.8" textLength="79.5" lengthAdjust="spacingAndGlyphs" fill="#3fb56c" font-size="9" font-weight="bold" >POLÍTICA TOMADA</text>
<text x="658.4" y="324.3" textLength="49.0" lengthAdjust="spacingAndGlyphs" fill="#b3243c" font-size="9" font-weight="bold" >EN ESTUDIO</text>
<line x1="683.3" y1="246.8" x2="683.3" y2="242.5" stroke="#3a1f5e" stroke-width="2.1"/><line x1="683.3" y1="246.8" x2="687.4" y2="245.5" stroke="#3a1f5e" stroke-width="2.1"/><line x1="683.3" y1="246.8" x2="685.8" y2="250.3" stroke="#3a1f5e" stroke-width="2.1"/><line x1="683.3" y1="246.8" x2="680.8" y2="250.3" stroke="#3a1f5e" stroke-width="2.1"/><line x1="683.3" y1="246.8" x2="679.2" y2="245.5" stroke="#3a1f5e" stroke-width="2.1"/>
<line x1="683.3" y1="298.8" x2="683.3" y2="294.5" stroke="#3fb56c" stroke-width="2.1"/><line x1="683.3" y1="298.8" x2="687.4" y2="297.5" stroke="#3fb56c" stroke-width="2.1"/><line x1="683.3" y1="298.8" x2="685.8" y2="302.3" stroke="#3fb56c" stroke-width="2.1"/><line x1="683.3" y1="298.8" x2="680.8" y2="302.3" stroke="#3fb56c" stroke-width="2.1"/><line x1="683.3" y1="298.8" x2="679.2" y2="297.5" stroke="#3fb56c" stroke-width="2.1"/>
<line x1="683.3" y1="339.5" x2="683.3" y2="335.2" stroke="#a8283c" stroke-width="2.1"/><line x1="683.3" y1="339.5" x2="687.4" y2="338.2" stroke="#a8283c" stroke-width="2.1"/><line x1="683.3" y1="339.5" x2="685.8" y2="343.0" stroke="#a8283c" stroke-width="2.1"/><line x1="683.3" y1="339.5" x2="680.8" y2="343.0" stroke="#a8283c" stroke-width="2.1"/><line x1="683.3" y1="339.5" x2="679.2" y2="338.2" stroke="#a8283c" stroke-width="2.1"/>
<g opacity="0.92"><path d="M657.6 410.1 A19.8 19.8 0 0 1 663.2 411.2 L660.1 420.4 A10.0 10.0 0 0 0 657.2 419.9 Z" fill="#e5243b"/><path d="M664.7 411.7 A19.8 19.8 0 0 1 669.6 414.8 L663.2 422.3 A10.0 10.0 0 0 0 660.8 420.7 Z" fill="#dda63a"/><path d="M670.7 415.8 A19.8 19.8 0 0 1 674.2 420.4 L665.6 425.1 A10.0 10.0 0 0 0 663.8 422.8 Z" fill="#4c9f38"/><path d="M674.8 421.8 A19.8 19.8 0 0 1 676.4 427.3 L666.7 428.6 A10.0 10.0 0 0 0 665.9 425.8 Z" fill="#c5192d"/><path d="M676.6 428.8 A19.8 19.8 0 0 1 676.0 434.6 L666.5 432.3 A10.0 10.0 0 0 0 666.8 429.4 Z" fill="#ff3a21"/><path d="M675.6 436.0 A19.8 19.8 0 0 1 673.0 441.2 L665.0 435.6 A10.0 10.0 0 0 0 666.3 433.0 Z" fill="#26bde2"/><path d="M672.1 442.4 A19.8 19.8 0 0 1 667.9 446.3 L662.4 438.2 A10.0 10.0 0 0 0 664.5 436.2 Z" fill="#fcc30b"/><path d="M666.6 447.1 A19.8 19.8 0 0 1 661.2 449.2 L659.0 439.7 A10.0 10.0 0 0 0 661.7 438.6 Z" fill="#a21942"/><path d="M659.7 449.5 A19.8 19.8 0 0 1 653.9 449.5 L655.3 439.8 A10.0 10.0 0 0 0 658.3 439.8 Z" fill="#fd6925"/><path d="M652.4 449.2 A19.8 19.8 0 0 1 647.0 447.1 L651.9 438.6 A10.0 10.0 0 0 0 654.6 439.7 Z" fill="#dd1367"/><path d="M645.7 446.3 A19.8 19.8 0 0 1 641.5 442.4 L649.1 436.2 A10.0 10.0 0 0 0 651.2 438.2 Z" fill="#fd9d24"/><path d="M640.6 441.2 A19.8 19.8 0 0 1 638.0 436.0 L647.3 433.0 A10.0 10.0 0 0 0 648.6 435.6 Z" fill="#bf8b2e"/><path d="M637.6 434.6 A19.8 19.8 0 0 1 637.0 428.8 L646.8 429.4 A10.0 10.0 0 0 0 647.1 432.3 Z" fill="#3f7e44"/><path d="M637.2 427.3 A19.8 19.8 0 0 1 638.8 421.8 L647.7 425.8 A10.0 10.0 0 0 0 646.9 428.6 Z" fill="#0a97d9"/><path d="M639.4 420.4 A19.8 19.8 0 0 1 642.9 415.8 L649.8 422.8 A10.0 10.0 0 0 0 648.0 425.1 Z" fill="#56c02b"/><path d="M644.0 414.8 A19.8 19.8 0 0 1 648.9 411.7 L652.8 420.7 A10.0 10.0 0 0 0 650.4 422.3 Z" fill="#00689d"/><path d="M650.4 411.2 A19.8 19.8 0 0 1 656.0 410.1 L656.4 419.9 A10.0 10.0 0 0 0 653.5 420.4 Z" fill="#19486a"/><rect x="651.2" y="424.2" width="3.6" height="12.6" rx="1.8" fill="#5aa9c8"/><path d="M655 431.6 Q654.6 425.6 663 424.6 Q663.4 431.4 655 431.6Z" fill="#4a9a8a"/></g>
<text x="679.2" y="430.8" textLength="45.5" lengthAdjust="spacingAndGlyphs" fill="#7ab2b2" font-size="11.5" font-weight="normal" >recircula</text>
<text x="679.4" y="437.6" textLength="53.6" lengthAdjust="spacingAndGlyphs" fill="#8fbab8" font-size="5" font-weight="normal" >the value of resources</text></g>
</svg>
</body></html>
